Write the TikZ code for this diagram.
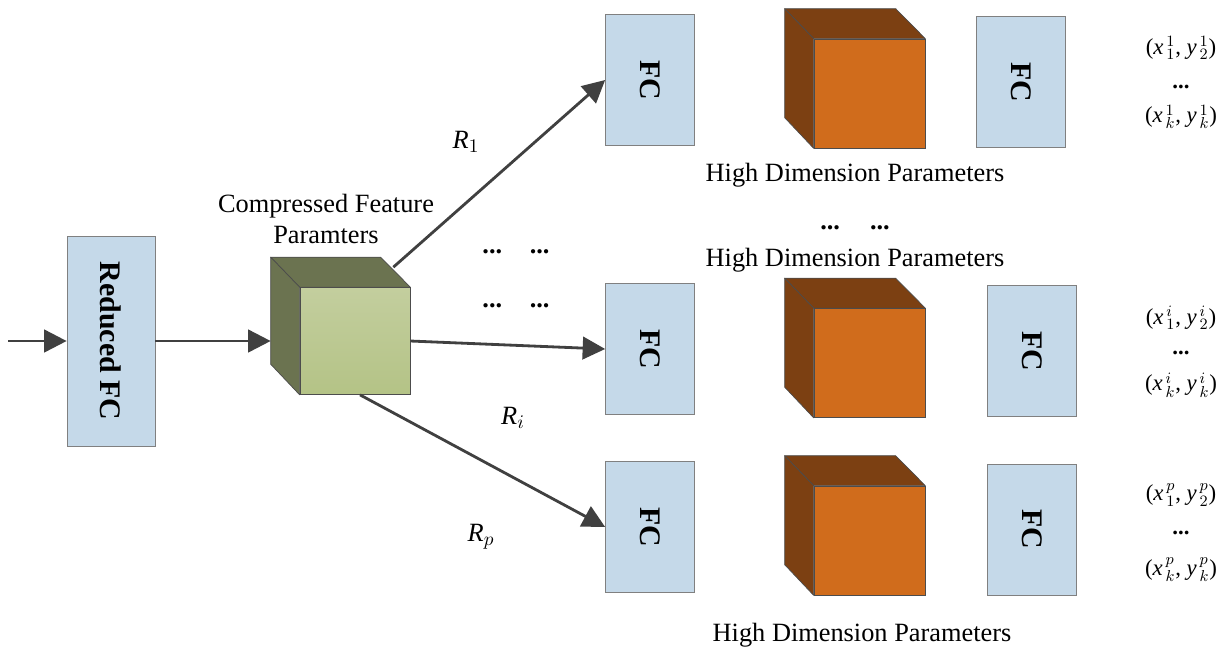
\documentclass[tikz,border=0pt]{standalone}
\usepackage{fontspec}
\setmainfont{Liberation Serif}
\usepackage{xcolor}
\usetikzlibrary{arrows.meta,calc}

\definecolor{fcblue}{HTML}{C5D9E9}
\definecolor{cubeorange}{HTML}{D06C1C}
\definecolor{cubebrown}{HTML}{7C4012}
\definecolor{cubelight}{HTML}{BCC992}
\definecolor{cubelighttop}{HTML}{C3CE9E}
\definecolor{cubelightbot}{HTML}{B4C386}
\definecolor{cubeolive}{HTML}{6B7350}
\definecolor{arrowgrey}{HTML}{404040}

\newcommand{\xypair}[3]{(\textit{x}$^{\,#1}_{\,#2}$, \textit{y}$^{\,#1}_{\,#3}$)}

\begin{document}
\begin{tikzpicture}[x=0.02cm, y=-0.02cm,
    fcbox/.style={draw=black!50, fill=fcblue, minimum width=1.78cm, minimum height=2.62cm, inner sep=0pt},
    fctext/.style={rotate=-90, font=\fontsize{17}{20}\selectfont\bfseries},
    front/.style={draw=black!70, fill=#1, minimum width=2.22cm, minimum height=2.18cm, inner sep=0pt},
    side/.style={draw=black!70, fill=#1, line join=round},
    link/.style={draw=arrowgrey, line width=1.6pt, -{Triangle[length=0.45cm, width=0.45cm]}},
    lbl/.style={font=\fontsize{15}{18}\selectfont},
    pt/.style={font=\fontsize{13}{15}\selectfont, inner sep=1pt}
]
\useasboundingbox (0,0) rectangle (1229,650);

\def \dep {29} % depth of the cubes

% input stage
\coordinate (in) at (8,341);
\node[fcbox, minimum height=4.2cm, minimum width=1.76cm] (rfc) at (111,341) {};
\node[fctext] at (rfc) {Reduced FC};

% compressed cube
\node[front=cubelight, top color=cubelighttop, bottom color=cubelightbot, minimum width=2.2cm, minimum height=2.14cm] (cmp) at (355,341) {};
\draw[side=cubeolive] (cmp.north west) -- ++(-\dep,-30) -- ++(110,0) -- (cmp.north east) -- cycle;
\draw[side=cubeolive] (cmp.north west) -- ++(-\dep,-30) -- ++(0,107) -- (cmp.south west) -- cycle;
\coordinate (cmp-in) at ($(cmp.west)+(-\dep,0)$);
\coordinate (cmp-top) at ($(cmp.north east)+(-17,-20)$);
\node[lbl, align=center] at (326,219) {Compressed Feature\\Paramters};

% branches
\foreach \s/\fy/\ky/\gx/\gy/\ya/\yb/\yc [count=\n] in
  {1/80/93.5/1021/82/48/87/117, i/349/363/1032/351/318/353/385, p/527/540.5/1032/529.5/495/533/570}
{
  \node[fcbox] (fc\n) at (650,\fy) {};
  \node[fctext] at (fc\n) {FC};
  \node[front=cubeorange] (hd\n) at (869.5,\ky) {};
  \draw[side=cubebrown] (hd\n.north west) -- ++(-\dep,-30) -- ++(111,0) -- (hd\n.north east) -- cycle;
  \draw[side=cubebrown] (hd\n.north west) -- ++(-\dep,-30) -- ++(0,109) -- (hd\n.south west) -- cycle;
  \node[fcbox] (fco\n) at (\gx,\gy) {};
  \node[fctext] at (fco\n) {FC};
  \node[pt] at (1181,\ya) {\xypair{\s}{1}{2}};
  \node[pt] at (1181,\yb) {\textbf{...}};
  \node[pt] at (1181,\yc) {\xypair{\s}{k}{k}};
}

\node[lbl] at (855,175) {High Dimension Parameters};
\node[lbl] at (855,228) {\textbf{...}\hspace{0.6cm}\textbf{...}};
\node[lbl] at (855,260) {High Dimension Parameters};
\node[lbl] at (862,635) {High Dimension Parameters};
\node[lbl] at (516,252) {\textbf{...}\hspace{0.55cm}\textbf{...}};
\node[lbl] at (516,306) {\textbf{...}\hspace{0.55cm}\textbf{...}};

% connectors
\draw[link] (in) -- (rfc);
\draw[link] (rfc) -- (cmp-in);
\draw[link] (cmp-top) -- (fc1.west);
\draw[link] (cmp.east) -- (fc2.west);
\draw[link] ([xshift=0.1cm]cmp.south) -- (fc3.west);

\node[lbl] at (466,142) {\textit{R}$_1$};
\node[lbl] at (513,418) {\textit{R}$_i$};
\node[lbl] at (481,537) {\textit{R}$_p$};
\end{tikzpicture}
\end{document}
